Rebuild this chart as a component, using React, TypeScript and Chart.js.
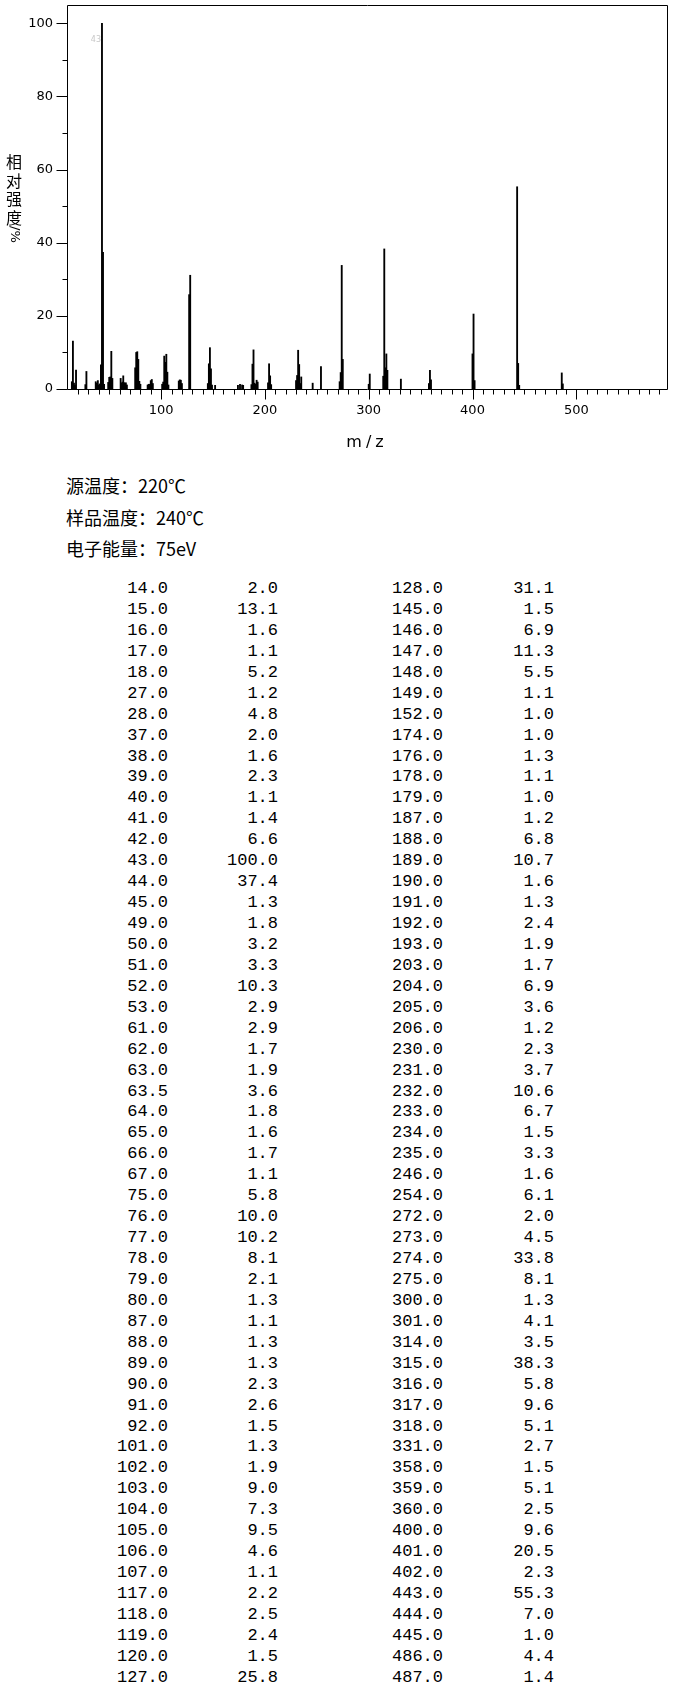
import { useEffect, useRef } from 'react';
import { Chart, registerables } from 'chart.js';

Chart.register(...registerables);

// peak list, left half of the table
const mzLeft = [
  14, 15, 16, 17, 18, 27, 28, 37, 38, 39, 40, 41, 42, 43, 44, 45, 49, 50, 51, 52, 53,
  61, 62, 63, 63.5, 64, 65, 66, 67, 75, 76, 77, 78, 79, 80, 87, 88, 89, 90, 91, 92,
  101, 102, 103, 104, 105, 106, 107, 117, 118, 119, 120, 127,
];
const intLeft = [
  2.0, 13.1, 1.6, 1.1, 5.2, 1.2, 4.8, 2.0, 1.6, 2.3, 1.1, 1.4, 6.6, 100.0, 37.4, 1.3, 1.8, 3.2, 3.3, 10.3, 2.9,
  2.9, 1.7, 1.9, 3.6, 1.8, 1.6, 1.7, 1.1, 5.8, 10.0, 10.2, 8.1, 2.1, 1.3, 1.1, 1.3, 1.3, 2.3, 2.6, 1.5,
  1.3, 1.9, 9.0, 7.3, 9.5, 4.6, 1.1, 2.2, 2.5, 2.4, 1.5, 25.8,
];

// right half of the table
const mzRight = [
  128, 145, 146, 147, 148, 149, 152, 174, 176, 178, 179, 187, 188, 189, 190, 191, 192, 193,
  203, 204, 205, 206, 230, 231, 232, 233, 234, 235, 246, 254, 272, 273, 274, 275, 300, 301,
  314, 315, 316, 317, 318, 331, 358, 359, 360, 400, 401, 402, 443, 444, 445, 486, 487,
];
const intRight = [
  31.1, 1.5, 6.9, 11.3, 5.5, 1.1, 1.0, 1.0, 1.3, 1.1, 1.0, 1.2, 6.8, 10.7, 1.6, 1.3, 2.4, 1.9,
  1.7, 6.9, 3.6, 1.2, 2.3, 3.7, 10.6, 6.7, 1.5, 3.3, 1.6, 6.1, 2.0, 4.5, 33.8, 8.1, 1.3, 4.1,
  3.5, 38.3, 5.8, 9.6, 5.1, 2.7, 1.5, 5.1, 2.5, 9.6, 20.5, 2.3, 55.3, 7.0, 1.0, 4.4, 1.4,
];

const yLabels = [0, 20, 40, 60, 80, 100];
const xLabels = [100, 200, 300, 400, 500];
const conditions = ['源温度：220℃', '样品温度：240℃', '电子能量：75eV'];
const yTitle = ['相', '对', '强', '度'];

const baseLabel = 43;

// frame + tick marks drawn on the chart's own scales
const spectrumAxes = {
  id: 'spectrumAxes',
  afterDraw(chart: any) {
    const { ctx, chartArea, scales } = chart;
    const { left, right, top, bottom } = chartArea;
    const x = scales.x;
    const y = scales.y;
    ctx.save();
    ctx.strokeStyle = '#000';
    ctx.lineWidth = 1;
    ctx.beginPath();
    const L = Math.round(left) + 0.5;
    const R = Math.round(right) + 0.5;
    const T = Math.round(top) + 0.5;
    const B = Math.round(bottom) + 0.5;
    ctx.moveTo(L, B);
    ctx.lineTo(L, T);
    ctx.lineTo(R, T);
    ctx.lineTo(R, B);
    ctx.moveTo(L, B);
    ctx.lineTo(R, B);
    for (let v = 0; v <= 100; v += 10) {
      const py = Math.round(y.getPixelForValue(v)) + 0.5;
      const len = v % 20 === 0 ? 11 : 5;
      ctx.moveTo(L - len, py);
      ctx.lineTo(L, py);
    }
    for (let v = 20; v <= 580; v += 10) {
      const px = Math.round(x.getPixelForValue(v)) + 0.5;
      const len = v % 100 === 0 ? 10 : 5;
      ctx.moveTo(px, B);
      ctx.lineTo(px, B + len);
    }
    ctx.stroke();

    // faint label on the base peak
    ctx.fillStyle = '#c8c8c8';
    ctx.font = '8px "DejaVu Sans"';
    ctx.textAlign = 'right';
    ctx.textBaseline = 'middle';
    ctx.fillText(String(baseLabel), x.getPixelForValue(baseLabel) - 1, y.getPixelForValue(95.5));
    ctx.restore();
  },
};

function SpectrumChart() {
  const canvasRef = useRef<HTMLCanvasElement>(null);

  useEffect(() => {
    if (!canvasRef.current) return;
    const points = [
      ...mzLeft.map((m, i) => ({ x: m, y: intLeft[i] })),
      ...mzRight.map((m, i) => ({ x: m, y: intRight[i] })),
    ];

    const chart = new Chart(canvasRef.current, {
      type: 'bar',
      data: {
        datasets: [
          {
            data: points as any,
            backgroundColor: '#000',
            borderWidth: 0,
            barThickness: 1.2,
          },
        ],
      },
      options: {
        responsive: false,
        animation: false,
        layout: { padding: { left: 0, top: 5, right: 13, bottom: 0 } },
        plugins: {
          legend: { display: false },
          tooltip: { enabled: false },
        },
        scales: {
          x: {
            type: 'linear',
            min: 9.3,
            max: 587.4,
            offset: false,
            grid: { display: false, drawTicks: false },
            border: { display: false },
            ticks: {
              stepSize: 100,
              padding: 14,
              maxRotation: 0,
              autoSkip: false,
              color: '#000',
              font: { family: 'DejaVu Sans', size: 13 },
              callback: (v: any) => (xLabels.includes(v) ? String(v) : ''),
            },
            afterFit: (s: any) => {
              s.height = 61;
              s.paddingLeft = 0;
              s.paddingRight = 0;
            },
          },
          y: {
            min: 0,
            max: 105,
            grid: { display: false, drawTicks: false },
            border: { display: false },
            ticks: {
              stepSize: 20,
              padding: 14,
              color: '#000',
              font: { family: 'DejaVu Sans', size: 13 },
              callback: (v: any) => (yLabels.includes(v) ? String(v) : ''),
            },
            afterFit: (s: any) => {
              s.width = 67;
              s.paddingTop = 0;
              s.paddingBottom = 0;
            },
          },
        },
      },
      plugins: [spectrumAxes],
    });

    return () => chart.destroy();
  }, []);

  return (
    <div style={{ position: 'relative', width: 680, height: 450 }}>
      <canvas ref={canvasRef} width={680} height={450} style={{ display: 'block' }} />
      <div
        style={{
          position: 'absolute',
          left: 5,
          top: 152,
          width: 18,
          fontFamily: '"Noto Sans CJK SC"',
          fontSize: 16,
          lineHeight: '18.5px',
          textAlign: 'center',
          color: '#000',
        }}
      >
        {yTitle.map((c) => (
          <div key={c}>{c}</div>
        ))}
        <div style={{ writingMode: 'vertical-rl', margin: '0 auto', fontFamily: 'DejaVu Sans', fontSize: 13 }}>/%</div>
      </div>
      <div
        style={{
          position: 'absolute',
          left: 367,
          top: 432,
          transform: 'translateX(-50%)',
          fontFamily: '"DejaVu Sans"',
          fontSize: 16,
          letterSpacing: 4,
          lineHeight: '20px',
          color: '#000',
        }}
      >
        m/z
      </div>
    </div>
  );
}

function PeakTable() {
  const rowStyle = { display: 'flex', height: 20.95, lineHeight: '20.95px' };
  return (
    <div style={{ position: 'absolute', left: 0, top: 579, fontFamily: '"Liberation Mono"', fontSize: 17, color: '#000' }}>
      {mzLeft.map((m, i) => (
        <div key={i} style={rowStyle}>
          <span style={{ width: 168, textAlign: 'right' }}>{m.toFixed(1)}</span>
          <span style={{ width: 110, textAlign: 'right' }}>{intLeft[i].toFixed(1)}</span>
          <span style={{ width: 165, textAlign: 'right' }}>{mzRight[i].toFixed(1)}</span>
          <span style={{ width: 111, textAlign: 'right' }}>{intRight[i].toFixed(1)}</span>
        </div>
      ))}
    </div>
  );
}

export default function App() {
  useEffect(() => {
    document.body.style.margin = '0';
  }, []);

  return (
    <div style={{ position: 'relative', width: 680, height: 1701, background: '#fff' }}>
      <SpectrumChart />
      <div
        style={{
          position: 'absolute',
          left: 66,
          top: 470,
          fontFamily: '"Noto Sans CJK SC"',
          fontSize: 18,
          lineHeight: '31.5px',
          color: '#000',
        }}
      >
        {conditions.map((c) => (
          <div key={c}>{c}</div>
        ))}
      </div>
      <PeakTable />
    </div>
  );
}
